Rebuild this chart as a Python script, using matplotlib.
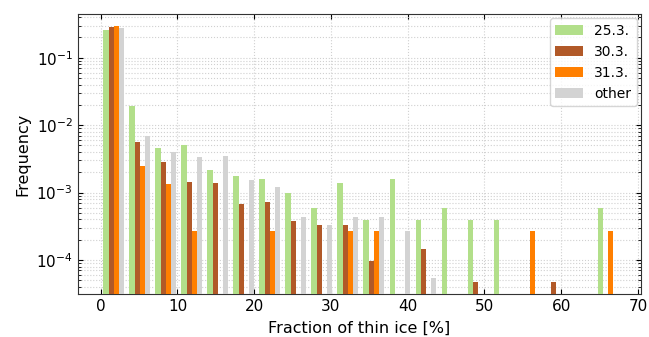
import numpy as np
import matplotlib.pyplot as plt

# bin edges of the histogram (20 bins)
edges = np.linspace(0, 67.8, 21)
labels = ["25.3.", "30.3.", "31.3.", "other"]
colors = ["#b2df8a", "#b15928", "#ff7f00", "lightgray"]

# frequency per bin (0 = empty bin)
f_253 = [0.258, 0.0194, 0.00452, 0.00513, 0.00216, 0.00177, 0.00157, 0.000984,
         0.000589, 0.00138, 0.000391, 0.00157, 0.000391, 0.000589, 0.000391,
         0.000391, 0, 0, 0, 0.000589]
f_303 = [0.288, 0.0056, 0.00283, 0.00143, 0.00138, 0.000675, 0.000723, 0.000382,
         0.000334, 0.000334, 0.0000973, 0, 0.000147, 0, 0.0000466,
         0, 0, 0.0000466, 0, 0]
f_313 = [0.299, 0.00247, 0.00135, 0.000271, 0, 0, 0.000271, 0,
         0, 0.000271, 0.000271, 0, 0, 0, 0,
         0, 0.000271, 0, 0, 0.000271]
f_other = [0.276, 0.00697, 0.00403, 0.00337, 0.00348, 0.00153, 0.00119, 0.000433,
           0.000326, 0.000433, 0.000433, 0.000271, 0.0000545, 0, 0,
           0, 0, 0, 0, 0]

centers = (edges[:-1] + edges[1:]) / 2
series = [f_253, f_303, f_313, f_other]

fig, ax = plt.subplots(figsize=(6.49, 3.37), dpi=100)
fig.subplots_adjust(left=0.1197, right=0.9877, top=0.9585, bottom=0.1267)

ax.hist([centers] * 4, bins=edges, weights=series, color=colors, label=labels,
        rwidth=0.8, log=True, zorder=3)

ax.set_xlim(-3.0, 70.4)
ax.set_ylim(3.1e-5, 0.445)
ax.set_xticks(range(0, 71, 10))
ax.set_xlabel("Fraction of thin ice [%]", fontsize=11.5, labelpad=5)
ax.set_ylabel("Frequency", fontsize=11.5)

ax.tick_params(which="both", direction="in", top=True, right=True, labelsize=11)
ax.grid(True, which="major", axis="x", linestyle=":", color="#d0d0d0", linewidth=0.8)
ax.grid(True, which="both", axis="y", linestyle=":", color="#d0d0d0", linewidth=0.8)
ax.set_axisbelow(True)
for s in ax.spines.values():
    s.set_color("#333333")

ax.legend(loc="upper right", fontsize=10, borderaxespad=0.3)

plt.savefig("out.png", dpi=100)
